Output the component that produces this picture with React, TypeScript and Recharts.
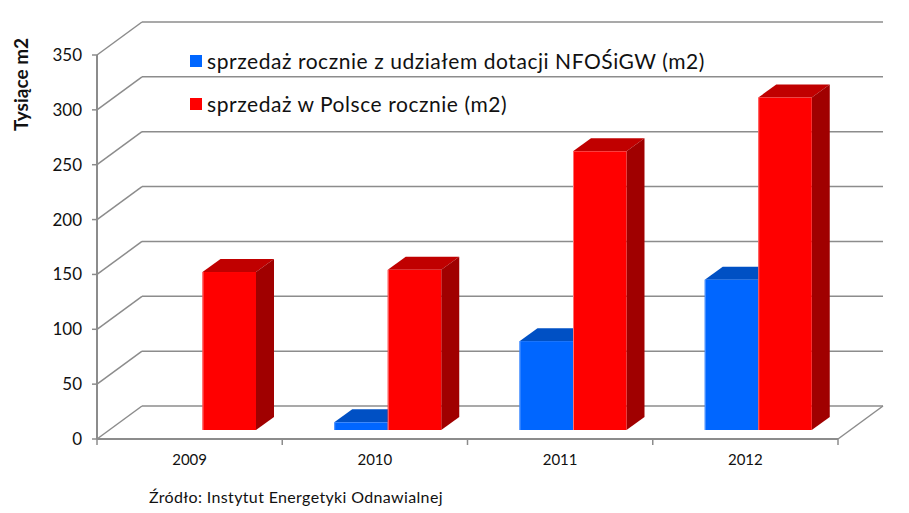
import { BarChart, Bar, XAxis, YAxis, CartesianGrid, Legend } from "recharts";

const YEARS = ["2009", "2010", "2011", "2012"];
const DOTACJE = [0, 7, 81, 137];
const POLSKA = [144, 146, 254, 303];
const Y_TICKS = [0, 50, 100, 150, 200, 250, 300, 350];

const SERIES_NFOS = "sprzedaż rocznie z udziałem dotacji NFOŚiGW (m2)";
const SERIES_PL = "sprzedaż w Polsce rocznie (m2)";
const SOURCE = "Źródło: Instytut Energetyki Odnawialnej";

const WIDTH = 909;
const HEIGHT = 513;
const X_AXIS_H = 74;
const MARGIN = { top: 55, right: 71, bottom: 0, left: 0 };
const AXIS_W = 97;
const BAND = (WIDTH - MARGIN.right - AXIS_W) / YEARS.length;

// depth of the fake 3d box and of the bars standing inside it
const WALL_X = 45;
const WALL_Y = 33;
const BAR_SHIFT_X = 13;
const BAR_SHIFT_Y = 9;
const BAR_X = 18;
const BAR_Y = 13;

const GRID = "#8c8c8c";
const FONT = "Lato, sans-serif";

const data = YEARS.map((year, i) => ({ year, dotacje: DOTACJE[i], polska: POLSKA[i] }));

function Box3D(props: any) {
  const { x, y, width, height, fill, topFill, sideFill, edge } = props;
  if (!height) return null;
  const l = x + BAR_SHIFT_X;
  const r = l + width;
  const t = y - BAR_SHIFT_Y;
  const b = t + height;
  return (
    <g>
      <polygon points={`${l},${t} ${l + BAR_X},${t - BAR_Y} ${r + BAR_X},${t - BAR_Y} ${r},${t}`} fill={topFill} />
      <polygon points={`${r},${t} ${r + BAR_X},${t - BAR_Y} ${r + BAR_X},${b - BAR_Y} ${r},${b}`} fill={sideFill} />
      <rect x={l} y={t} width={width} height={height} fill={fill} />
      <line x1={l + 0.5} y1={t} x2={l + 0.5} y2={b} stroke={edge} strokeWidth={1} />
    </g>
  );
}

function GridLine(props: any) {
  const { x1, x2, y1 } = props;
  const isFloor = Math.abs(y1 - (HEIGHT - X_AXIS_H)) < 1;
  return (
    <g stroke={GRID} strokeWidth={1.5} fill="none">
      <line x1={x1} y1={y1} x2={x1 + WALL_X} y2={y1 - WALL_Y} />
      <line x1={x1 + WALL_X} y1={y1 - WALL_Y} x2={x2 + WALL_X} y2={y1 - WALL_Y} />
      {isFloor && <line x1={x2} y1={y1} x2={x2 + WALL_X} y2={y1 - WALL_Y} />}
    </g>
  );
}

function YearTick(props: any) {
  const { x, y, payload, index } = props;
  return (
    <g>
      <line x1={x - BAND / 2} y1={y - 8} x2={x - BAND / 2} y2={y - 2} stroke={GRID} strokeWidth={1.5} />
      {index === YEARS.length - 1 && (
        <line x1={x + BAND / 2} y1={y - 8} x2={x + BAND / 2} y2={y - 2} stroke={GRID} strokeWidth={1.5} />
      )}
      <text x={x} y={y + 18} textAnchor="middle" fontSize={15} fontFamily={FONT} fill="#111">
        {payload.value}
      </text>
    </g>
  );
}

function LegendList({ payload }: any) {
  return (
    <div style={{ fontFamily: FONT, fontSize: 21, letterSpacing: 0.55, color: "#111" }}>
      {(payload || []).map((item: any) => (
        <div key={item.value} style={{ display: "flex", alignItems: "center", height: 43, whiteSpace: "nowrap" }}>
          <span style={{ width: 12, height: 12, marginRight: 5, background: item.color }} />
          {item.value}
        </div>
      ))}
    </div>
  );
}

export default function App() {
  return (
    <div style={{ position: "absolute", left: 0, top: 0, width: WIDTH, height: HEIGHT }}>
      <BarChart width={WIDTH} height={HEIGHT} data={data} margin={MARGIN} barGap={0} barSize={53.5}>
        <CartesianGrid horizontal={(p: any) => <GridLine key={p.key} {...p} />} vertical={false} />
        <XAxis
          dataKey="year"
          axisLine={{ stroke: GRID, strokeWidth: 2 }}
          tickLine={false}
          tick={YearTick}
          interval={0}
          height={X_AXIS_H}
        />
        <YAxis
          width={AXIS_W}
          domain={[0, 350]}
          ticks={Y_TICKS}
          axisLine={{ stroke: GRID, strokeWidth: 2 }}
          tickLine={{ stroke: GRID, strokeWidth: 1.5 }}
          tickSize={5}
          tickMargin={10}
          tick={{ fill: "#111", fontSize: 17, fontFamily: FONT }}
          label={{
            value: "Tysiące m2",
            angle: -90,
            position: "insideTopLeft",
            offset: 0,
            fill: "#111",
            fontSize: 19,
            fontWeight: 700,
            fontFamily: FONT,
            dx: 15,
            dy: 76,
          }}
        />
        <Legend
          layout="horizontal"
          verticalAlign="middle"
          content={<LegendList />}
          wrapperStyle={{ left: 190, top: 39, width: 560, bottom: "auto" }}
        />
        <Bar
          dataKey="dotacje"
          name={SERIES_NFOS}
          fill="#0066ff"
          isAnimationActive={false}
          shape={<Box3D topFill="#0050c4" sideFill="#003a96" edge="#5a9aff" />}
        />
        <Bar
          dataKey="polska"
          name={SERIES_PL}
          fill="#ff0000"
          isAnimationActive={false}
          shape={<Box3D topFill="#c00000" sideFill="#a00000" edge="#ff7070" />}
        />
      </BarChart>
      <div style={{ position: "absolute", left: 149, top: 487, fontFamily: FONT, fontSize: 16, letterSpacing: 0.35, color: "#111", whiteSpace: "nowrap" }}>
        {SOURCE}
      </div>
    </div>
  );
}
